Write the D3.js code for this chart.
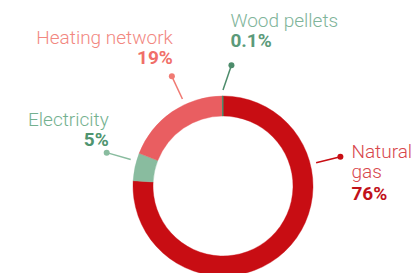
<!DOCTYPE html>
<html>
<head>
<meta charset="utf-8">
<script src="https://d3js.org/d3.v7.min.js"></script>
<style>
  html, body { margin: 0; padding: 0; background: #fff; overflow: hidden; }
  svg { display: block; font-family: Roboto, "Noto Sans", sans-serif; }
</style>
</head>
<body>
<div id="chart"></div>
<script>
// Data, clockwise from 12 o'clock
const categories = ['Natural gas', 'Electricity', 'Heating network', 'Wood pellets'];
const shares = [76, 5, 19, 0.1];
const shareLabels = ['76%', '5%', '19%', '0.1%'];
const nameLines = [['Natural', 'gas'], ['Electricity'], ['Heating network'], ['Wood pellets']];

// Colours per slice
const sliceColors = ['#c80d13', '#89bc9f', '#e95e61', '#4d8c6b'];
const nameColors = ['#d8464c', '#74b18f', '#f2877f', '#80b49a'];
const valueColors = ['#c1111a', '#4f946f', '#f06f69', '#5b9a7a'];

// Callout layout (angle of the dot in degrees, text anchor and offsets from the dot)
const callouts = [
    { angle: 76, anchor: 'start', dx: 11, dy: 1, gap: [20, 22] },
    { angle: -74, anchor: 'end', dx: 2, dy: -27, gap: [20] },
    { angle: -25, anchor: 'end', dx: 1, dy: -32, gap: [20] },
    { angle: 4, anchor: 'start', dx: -1, dy: -38, gap: [20] }
];

const width = 417, height = 273;
const cx = 223, cy = 186;
const outerR = 90, innerR = 70;
const lineR0 = 96, dotR = 121;

const svg = d3.select('#chart')
    .append('svg')
    .attr('width', width)
    .attr('height', height);

const g = svg.append('g')
    .attr('transform', `translate(${cx},${cy})`);

const pie = d3.pie().sort(null).value(d => d)(shares);

const arc = d3.arc()
    .innerRadius(innerR)
    .outerRadius(outerR);

g.selectAll('path.slice')
    .data(pie)
    .join('path')
    .attr('class', 'slice')
    .attr('d', arc)
    .attr('fill', (d, i) => sliceColors[i])
    .attr('stroke', (d, i) => sliceColors[i])
    .attr('stroke-width', (d, i) => (d.endAngle - d.startAngle) < 0.02 ? 1 : 0.4);

// Callouts
pie.forEach((d, i) => {
    const c = callouts[i];
    const dotA = c.angle * Math.PI / 180;
    // line starts on the slice itself, clamped into its angular range
    let a = dotA;
    const lo = d.startAngle, hi = d.endAngle;
    while (a < lo) a += 2 * Math.PI;
    while (a > lo + 2 * Math.PI) a -= 2 * Math.PI;
    if (a > hi) {
        a = (a - hi) < (lo + 2 * Math.PI - a) ? hi : lo;
    }
    const p0 = d3.pointRadial(a, lineR0);
    const p1 = d3.pointRadial(dotA, dotR);
    const lineColor = i === 2 ? '#f07a73' : sliceColors[i];

    g.append('line')
        .attr('x1', p0[0]).attr('y1', p0[1])
        .attr('x2', p1[0]).attr('y2', p1[1])
        .attr('stroke', lineColor)
        .attr('stroke-width', 1.5);

    g.append('circle')
        .attr('cx', p1[0]).attr('cy', p1[1])
        .attr('r', 3)
        .attr('fill', lineColor);

    const t = g.append('text')
        .attr('text-anchor', c.anchor)
        .attr('x', p1[0] + c.dx)
        .attr('y', p1[1] + c.dy)
        .style('font-size', '19px');

    const lines = nameLines[i];
    lines.forEach((ln, j) => {
        t.append('tspan')
            .attr('x', p1[0] + c.dx)
            .attr('dy', j === 0 ? 0 : c.gap[j - 1])
            .attr('fill', nameColors[i])
            .style('font-weight', 300)
            .text(ln);
    });
    t.append('tspan')
        .attr('x', p1[0] + c.dx)
        .attr('dy', c.gap[lines.length - 1])
        .attr('fill', valueColors[i])
        .style('font-weight', 700)
        .text(shareLabels[i]);
});
</script>
</body>
</html>
